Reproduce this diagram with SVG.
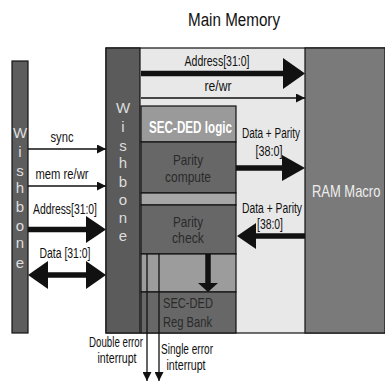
<svg xmlns="http://www.w3.org/2000/svg" width="385" height="381" viewBox="0 0 385 381">
  <style>
    .lbl { font-family: "Liberation Sans", Arial, sans-serif; font-size: 14px; fill: #111; }
    .bus { font-family: "Liberation Sans", Arial, sans-serif; font-size: 15px; fill: #ddd; text-anchor: middle; }
    .blk { font-family: "Liberation Sans", Arial, sans-serif; font-size: 15px; fill: #2a2a2a; text-anchor: middle; }
    .mid { text-anchor: middle; }
    .edge { stroke: #111; stroke-width: 1.2; }
    .thin { stroke: #111; stroke-width: 1.3; fill: none; }
    .thick { stroke: #111; stroke-width: 5.5; fill: none; }
    .head { fill: #111; }
  </style>
  <defs>
    <marker id="sm" viewBox="0 0 10 10" refX="10" refY="5" markerWidth="9" markerHeight="9" markerUnits="userSpaceOnUse" orient="auto">
      <path d="M0,0 L10,5 L0,10 z" fill="#111"/>
    </marker>
  </defs>
  <rect width="385" height="381" fill="#fff"/>

  <text class="lbl mid" x="234" y="26" style="font-size:18px" textLength="92" lengthAdjust="spacingAndGlyphs">Main Memory</text>

  <!-- Wishbone (master side) -->
  <g id="wb-left">
    <rect x="12" y="61" width="16" height="272" fill="#5d5d5d" class="edge"/>
    <text class="bus" x="20" y="138">W</text>
    <text class="bus" x="20" y="157">i</text>
    <text class="bus" x="20" y="176">s</text>
    <text class="bus" x="20" y="193">h</text>
    <text class="bus" x="20" y="212">b</text>
    <text class="bus" x="20" y="231">o</text>
    <text class="bus" x="20" y="248">n</text>
    <text class="bus" x="20" y="268">e</text>
  </g>

  <!-- Main memory enclosure -->
  <g id="main-memory">
    <rect x="106" y="48" width="279" height="285" fill="#e8e8e8" class="edge"/>
  </g>

  <g id="wb-right">
    <rect x="106" y="48" width="34" height="285" fill="#5b5b5b" class="edge"/>
    <text class="bus" x="123" y="113">W</text>
    <text class="bus" x="123" y="132">i</text>
    <text class="bus" x="123" y="151">s</text>
    <text class="bus" x="123" y="168">h</text>
    <text class="bus" x="123" y="187">b</text>
    <text class="bus" x="123" y="205">o</text>
    <text class="bus" x="123" y="223">n</text>
    <text class="bus" x="123" y="241">e</text>
  </g>

  <g id="ram-macro">
    <rect x="305" y="48" width="80" height="285" fill="#7a7a7a" class="edge"/>
    <text class="lbl" transform="translate(312,197) scale(0.81,1)" x="0" y="0" style="fill:#eee;font-size:16px">RAM Macro</text>
  </g>

  <!-- SEC-DED block -->
  <g id="sec-ded-logic">
    <rect x="141" y="106" width="95" height="36" fill="#9a9a9a" class="edge"/>
    <text class="lbl" transform="translate(149,133) scale(0.73,1)" x="0" y="0" font-weight="bold" style="fill:#fff;font-size:16px">SEC-DED logic</text>
  </g>
  <g id="parity-compute">
    <rect x="141" y="142" width="95" height="51" fill="#676767" class="edge"/>
    <text class="blk" x="188" y="165" textLength="30" lengthAdjust="spacingAndGlyphs">Parity</text>
    <text class="blk" x="188" y="182" textLength="46" lengthAdjust="spacingAndGlyphs">compute</text>
  </g>
  <rect x="141" y="193" width="95" height="12" fill="#a6a6a6" class="edge"/>
  <g id="parity-check">
    <rect x="141" y="205" width="95" height="49" fill="#676767" class="edge"/>
    <text class="blk" x="188" y="227" textLength="30" lengthAdjust="spacingAndGlyphs">Parity</text>
    <text class="blk" x="188" y="243" textLength="32" lengthAdjust="spacingAndGlyphs">check</text>
  </g>
  <rect x="141" y="254" width="95" height="38" fill="#9c9c9c" class="edge"/>
  <g id="reg-bank">
    <rect x="141" y="292" width="95" height="41" fill="#676767" class="edge"/>
    <text class="blk" x="163" y="308" style="text-anchor:start" textLength="50" lengthAdjust="spacingAndGlyphs">SEC-DED</text>
    <text class="blk" x="163" y="327" style="text-anchor:start" textLength="49" lengthAdjust="spacingAndGlyphs">Reg Bank</text>
  </g>

  <!-- Connectors -->
  <g id="connectors">
    <!-- Address to RAM -->
    <line class="thick" x1="141" y1="73.5" x2="285" y2="73.5"/>
    <path class="head" d="M283,58 L305,73.5 L283,89 z"/>
    <!-- re/wr to RAM -->
    <line class="thin" x1="141" y1="98" x2="305" y2="98" marker-end="url(#sm)"/>
    <!-- Data + Parity write -->
    <line class="thick" x1="236" y1="168" x2="285" y2="168"/>
    <path class="head" d="M282,155 L305,168 L282,181 z"/>
    <!-- Data + Parity read -->
    <line class="thick" x1="305" y1="236" x2="254" y2="236"/>
    <path class="head" d="M256,223 L237,236 L256,249 z"/>
    <!-- parity check to reg bank -->
    <line class="thick" x1="208" y1="254" x2="208" y2="284"/>
    <path class="head" d="M198,283 L208,292 L218,283 z"/>

    <!-- Bus signals -->
    <line class="thin" x1="28" y1="149" x2="106" y2="149" marker-end="url(#sm)"/>
    <line class="thin" x1="28" y1="186" x2="106" y2="186" marker-end="url(#sm)"/>
    <line class="thick" x1="28" y1="229.5" x2="88" y2="229.5"/>
    <path class="head" d="M86,216 L106,229.5 L86,243 z"/>
    <line class="thick" x1="46" y1="275" x2="88" y2="275"/>
    <path class="head" d="M86,261 L106,275 L86,289 z"/>
    <path class="head" d="M48,261 L28,275 L48,289 z"/>

    <!-- Interrupt outputs -->
    <line class="thin" x1="147" y1="254" x2="147" y2="381" marker-end="url(#sm)"/>
    <line class="thin" x1="159" y1="254" x2="159" y2="381" marker-end="url(#sm)"/>
  </g>

  <!-- Labels -->
  <text class="lbl mid" x="217" y="66" textLength="65" lengthAdjust="spacingAndGlyphs">Address[31:0]</text>
  <text class="lbl mid" x="218" y="91" textLength="27" lengthAdjust="spacingAndGlyphs">re/wr</text>
  <text class="lbl mid" x="271" y="138" textLength="58" lengthAdjust="spacingAndGlyphs">Data + Parity</text>
  <text class="lbl mid" x="269" y="156" textLength="27" lengthAdjust="spacingAndGlyphs">[38:0]</text>
  <text class="lbl mid" x="272" y="213" textLength="60" lengthAdjust="spacingAndGlyphs">Data + Parity</text>
  <text class="lbl mid" x="270" y="229" textLength="26" lengthAdjust="spacingAndGlyphs">[38:0]</text>
  <text class="lbl mid" x="62" y="142" textLength="23" lengthAdjust="spacingAndGlyphs">sync</text>
  <text class="lbl mid" x="62" y="179" textLength="53" lengthAdjust="spacingAndGlyphs">mem re/wr</text>
  <text class="lbl mid" x="65" y="214" textLength="64" lengthAdjust="spacingAndGlyphs">Address[31:0]</text>
  <text class="lbl mid" x="65" y="258" textLength="51" lengthAdjust="spacingAndGlyphs">Data [31:0]</text>
  <text class="lbl" x="89" y="347" textLength="54" lengthAdjust="spacingAndGlyphs">Double error</text>
  <text class="lbl mid" x="117" y="363" textLength="39" lengthAdjust="spacingAndGlyphs">interrupt</text>
  <text class="lbl" x="161" y="354" textLength="52" lengthAdjust="spacingAndGlyphs">Single error</text>
  <text class="lbl mid" x="186" y="370" textLength="39" lengthAdjust="spacingAndGlyphs">interrupt</text>
</svg>
